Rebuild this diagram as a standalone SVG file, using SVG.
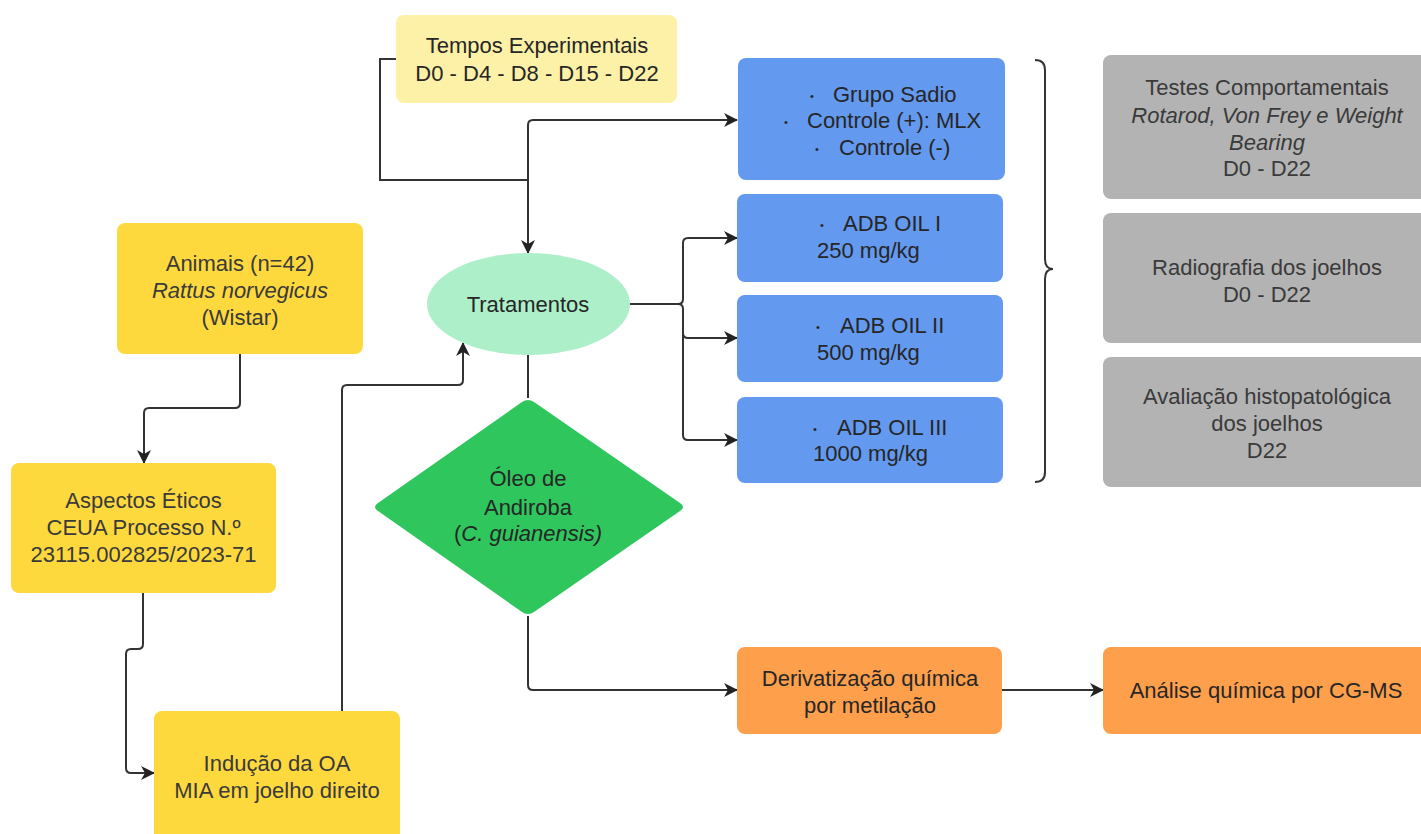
<svg xmlns="http://www.w3.org/2000/svg" width="1421" height="834" viewBox="0 0 1421 834">
<style>
text{font-family:"Liberation Sans",Arial,sans-serif;font-size:22px;fill:#262626}
.c{text-anchor:middle}
.g{fill:#3a3a3a}
.i{font-style:italic}
.b{font-size:11px}
.ln{fill:none;stroke:#333;stroke-width:2}
.ar{marker-end:url(#ah)}
</style>
<defs>
<marker id="ah" viewBox="0 0 14 14" refX="13" refY="7" markerWidth="14" markerHeight="14" markerUnits="userSpaceOnUse" orient="auto">
<path d="M0,0 L14,7 L0,14 L4,7 z" fill="#222"/>
</marker>
</defs>
<rect width="1421" height="834" fill="#fff"/>

<g id="connectors">
<path class="ln" d="M396,59 H380 V180 H528"/>
<path class="ln ar" d="M528,180 V253"/>
<path class="ln ar" d="M528,180 V125 q0,-5 5,-5 H737"/>
<path class="ln ar" d="M630,304 H678 q5,0 5,-5 V243 q0,-5 5,-5 H737"/>
<path class="ln ar" d="M678,304 q5,0 5,5 V333 q0,5 5,5 H737"/>
<path class="ln ar" d="M683,333 V435 q0,5 5,5 H737"/>
<path class="ln" d="M528,355 V398"/>
<path class="ln ar" d="M528,616 V685 q0,5 5,5 H737"/>
<path class="ln ar" d="M1002,690 H1103"/>
<path class="ln ar" d="M240,354 V403 q0,5 -5,5 H149 q-5,0 -5,5 V463"/>
<path class="ln ar" d="M143,593 V644 q0,5 -5,5 H131 q-5,0 -5,5 V768 q0,5 5,5 H154"/>
<path class="ln ar" d="M342,711 V390 q0,-5 5,-5 H458 q5,0 5,-5 V343"/>
<path class="ln" stroke-width="1.6" d="M1035,60 q10,0 10,10 V259 q0,10 8,10 q-8,0 -8,10 V472 q0,10 -10,10"/>
</g>

<g id="tempos">
<rect x="396" y="15" width="281" height="88" rx="8" fill="#fdf1a8"/>
<text class="c" x="537" y="53">Tempos Experimentais</text>
<text class="c" x="537" y="81">D0 - D4 - D8 - D15 - D22</text>
</g>

<g id="grupos">
<rect x="738" y="58" width="267" height="122" rx="8" fill="#6399ef"/>
<text x="810" y="100"><tspan class="b">•</tspan><tspan x="833" y="102">Grupo Sadio</tspan></text>
<text x="784" y="126"><tspan class="b">•</tspan><tspan x="807" y="128">Controle (+): MLX</tspan></text>
<text x="815" y="153"><tspan class="b">•</tspan><tspan x="839" y="155">Controle (-)</tspan></text>
</g>

<g id="adb1">
<rect x="737" y="194" width="266" height="88" rx="8" fill="#6399ef"/>
<text x="820" y="229"><tspan class="b">•</tspan><tspan x="843" y="231">ADB OIL I</tspan></text>
<text x="817" y="258">250 mg/kg</text>
</g>

<g id="adb2">
<rect x="737" y="295" width="266" height="87" rx="8" fill="#6399ef"/>
<text x="816" y="331"><tspan class="b">•</tspan><tspan x="840" y="333">ADB OIL II</tspan></text>
<text x="817" y="360">500 mg/kg</text>
</g>

<g id="adb3">
<rect x="737" y="397" width="266" height="86" rx="8" fill="#6399ef"/>
<text x="813" y="433"><tspan class="b">•</tspan><tspan x="837" y="435">ADB OIL III</tspan></text>
<text x="813" y="461">1000 mg/kg</text>
</g>

<g id="testes">
<rect x="1103" y="55" width="330" height="144" rx="8" fill="#b3b3b3"/>
<text class="c g" x="1267" y="95">Testes Comportamentais</text>
<text class="c g i" x="1267" y="123">Rotarod, Von Frey e Weight</text>
<text class="c g i" x="1267" y="150">Bearing</text>
<text class="c g" x="1267" y="176">D0 - D22</text>
</g>

<g id="radiografia">
<rect x="1103" y="213" width="330" height="130" rx="8" fill="#b3b3b3"/>
<text class="c g" x="1267" y="275">Radiografia dos joelhos</text>
<text class="c g" x="1267" y="302">D0 - D22</text>
</g>

<g id="histo">
<rect x="1103" y="357" width="330" height="130" rx="8" fill="#b3b3b3"/>
<text class="c g" x="1267" y="404">Avaliação histopatológica</text>
<text class="c g" x="1267" y="431">dos joelhos</text>
<text class="c g" x="1267" y="458">D22</text>
</g>

<g id="tratamentos">
<ellipse cx="528.5" cy="304" rx="101.5" ry="51" fill="#acefc9"/>
<text class="c" x="528" y="312">Tratamentos</text>
</g>

<g id="oleo">
<path d="M522,402 Q528,398 534,402 L680,503 Q686,507 680,511 L534,612 Q528,616 522,612 L378,511 Q372,507 378,503 Z" fill="#2fc65e"/>
<text class="c" x="528" y="486">Óleo de</text>
<text class="c" x="528" y="515">Andiroba</text>
<text class="c" x="528" y="541">(<tspan class="i">C. guianensis)</tspan></text>
</g>

<g id="animais">
<rect x="117" y="223" width="246" height="131" rx="8" fill="#fed93e"/>
<text class="c g" x="240" y="271">Animais (n=42)</text>
<text class="c g i" x="240" y="298">Rattus norvegicus</text>
<text class="c g" x="240" y="325">(Wistar)</text>
</g>

<g id="aspectos">
<rect x="11" y="463" width="265" height="130" rx="8" fill="#fed93e"/>
<text class="c g" x="143.5" y="508">Aspectos Éticos</text>
<text class="c g" x="143.5" y="535">CEUA Processo N.º</text>
<text class="c g" x="143.5" y="562">23115.002825/2023-71</text>
</g>

<g id="inducao">
<rect x="154" y="711" width="246" height="140" rx="8" fill="#fed93e"/>
<text class="c g" x="277" y="771">Indução da OA</text>
<text class="c g" x="277" y="798">MIA em joelho direito</text>
</g>

<g id="derivatizacao">
<rect x="737" y="647" width="265" height="87" rx="8" fill="#fe9f4c"/>
<text class="c" x="870" y="686">Derivatização química</text>
<text class="c" x="870" y="713">por metilação</text>
</g>

<g id="analise">
<rect x="1103" y="647" width="330" height="87" rx="8" fill="#fe9f4c"/>
<text class="c" x="1266" y="698">Análise química por CG-MS</text>
</g>
</svg>
